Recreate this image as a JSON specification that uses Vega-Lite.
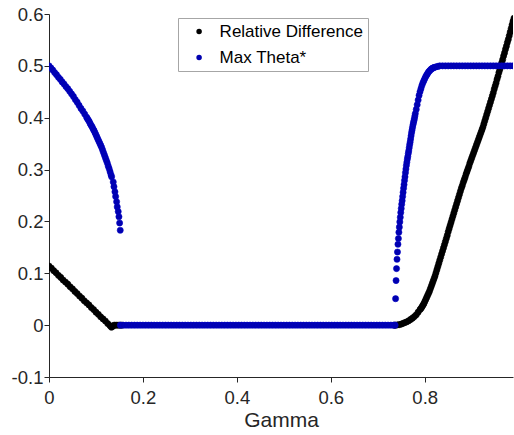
{
"$schema": "https://vega.github.io/schema/vega-lite/v6.json",
"width": 464, "height": 363,
"autosize": {"type": "none"},
"padding": {"left": 49, "top": 14, "right": 1, "bottom": 58},
"background": "white",
"config": {"view": {"stroke": null}, "font": "Liberation Sans",
  "axis": {"grid": false, "ticks": true, "domainColor": "#262626", "tickColor": "#262626", "labelColor": "#262626", "titleColor": "#262626", "labelFont": "Liberation Sans", "titleFont": "Liberation Sans", "labelFontSize": 18.5, "titleFontSize": 21, "titleFontWeight": "normal", "tickSize": 5, "tickWidth": 1, "tickOpacity": 1, "labelPadding": 1, "labelFlush": false, "labelOverlap": false},
  "legend": {"orient": "none", "legendX": 129, "legendY": 4, "padding": 5, "symbolOffset": 7.6, "labelOffset": 12, "strokeColor": "#a6a6a6", "fillColor": "white", "labelFont": "Liberation Sans", "labelFontSize": 17, "labelColor": "#000000", "rowPadding": 8, "symbolType": "circle", "symbolSize": 30, "symbolStrokeWidth": 0, "cornerRadius": 0}
},
"datasets": {
"rel": [
{"g":0,"v":0.114},{"g":0.005,"v":0.110},{"g":0.01,"v":0.105},{"g":0.015,"v":0.101},{"g":0.02,"v":0.096},{"g":0.025,"v":0.092},{"g":0.03,"v":0.087},{"g":0.035,"v":0.083},{"g":0.04,"v":0.079},{"g":0.045,"v":0.074},{"g":0.05,"v":0.070},{"g":0.055,"v":0.065},{"g":0.06,"v":0.061},{"g":0.065,"v":0.056},{"g":0.07,"v":0.052},{"g":0.075,"v":0.047},{"g":0.08,"v":0.043},{"g":0.085,"v":0.039},{"g":0.09,"v":0.034},{"g":0.095,"v":0.030},{"g":0.1,"v":0.025},{"g":0.105,"v":0.021},{"g":0.11,"v":0.016},{"g":0.115,"v":0.012},{"g":0.12,"v":0.008},{"g":0.125,"v":0.003},{"g":0.13,"v":-0.001},{"g":0.133,"v":-0.004},{"g":0.136,"v":-0.002},{"g":0.139,"v":0},{"g":0.143,"v":0},{"g":0.147,"v":0},{"g":0.151,"v":0},{"g":0.155,"v":0},
{"g":0.735,"v":0},{"g":0.738,"v":0},
{"g":0.742,"v":0.0005},{"g":0.746,"v":0.001},{"g":0.75,"v":0.002},{"g":0.754,"v":0.0035},{"g":0.758,"v":0.005},{"g":0.762,"v":0.0065},{"g":0.766,"v":0.0085},{"g":0.77,"v":0.011},{"g":0.774,"v":0.0135},{"g":0.778,"v":0.0165},{"g":0.782,"v":0.02},{"g":0.786,"v":0.025},{"g":0.79,"v":0.030},
{"g":0.792,"v":0.032},{"g":0.794,"v":0.035},{"g":0.796,"v":0.038},{"g":0.798,"v":0.041},{"g":0.8,"v":0.045},{"g":0.802,"v":0.049},{"g":0.804,"v":0.053},{"g":0.806,"v":0.057},{"g":0.808,"v":0.061},{"g":0.81,"v":0.065},{"g":0.812,"v":0.070},{"g":0.814,"v":0.075},{"g":0.816,"v":0.080},{"g":0.818,"v":0.085},{"g":0.82,"v":0.090},{"g":0.822,"v":0.095},{"g":0.824,"v":0.101},{"g":0.826,"v":0.107},{"g":0.828,"v":0.113},{"g":0.83,"v":0.119},{"g":0.832,"v":0.125},{"g":0.834,"v":0.131},{"g":0.836,"v":0.137},{"g":0.838,"v":0.143},{"g":0.84,"v":0.149},{"g":0.842,"v":0.155},{"g":0.844,"v":0.161},{"g":0.846,"v":0.167},{"g":0.848,"v":0.173},{"g":0.85,"v":0.180},{"g":0.852,"v":0.186},{"g":0.854,"v":0.192},{"g":0.856,"v":0.198},{"g":0.858,"v":0.204},{"g":0.86,"v":0.210},{"g":0.862,"v":0.216},{"g":0.864,"v":0.222},{"g":0.866,"v":0.228},{"g":0.868,"v":0.234},{"g":0.87,"v":0.240},{"g":0.872,"v":0.246},{"g":0.874,"v":0.252},{"g":0.876,"v":0.258},{"g":0.878,"v":0.264},{"g":0.88,"v":0.269},{"g":0.882,"v":0.275},{"g":0.884,"v":0.280},{"g":0.886,"v":0.285},{"g":0.888,"v":0.291},{"g":0.89,"v":0.296},{"g":0.892,"v":0.301},{"g":0.894,"v":0.306},{"g":0.896,"v":0.312},{"g":0.898,"v":0.317},{"g":0.9,"v":0.322},{"g":0.902,"v":0.327},{"g":0.904,"v":0.332},{"g":0.906,"v":0.337},{"g":0.908,"v":0.342},{"g":0.91,"v":0.347},{"g":0.912,"v":0.352},{"g":0.914,"v":0.357},{"g":0.916,"v":0.362},{"g":0.918,"v":0.367},{"g":0.92,"v":0.372},{"g":0.922,"v":0.377},{"g":0.924,"v":0.382},{"g":0.926,"v":0.388},{"g":0.928,"v":0.394},{"g":0.93,"v":0.400},{"g":0.932,"v":0.406},{"g":0.934,"v":0.412},{"g":0.936,"v":0.418},{"g":0.938,"v":0.424},{"g":0.94,"v":0.430},{"g":0.942,"v":0.436},{"g":0.944,"v":0.442},{"g":0.946,"v":0.448},{"g":0.948,"v":0.455},{"g":0.95,"v":0.461},{"g":0.952,"v":0.467},{"g":0.954,"v":0.474},{"g":0.956,"v":0.480},{"g":0.958,"v":0.487},{"g":0.96,"v":0.493},{"g":0.962,"v":0.499},{"g":0.964,"v":0.506},{"g":0.966,"v":0.512},{"g":0.968,"v":0.519},{"g":0.97,"v":0.525},{"g":0.972,"v":0.532},{"g":0.974,"v":0.538},{"g":0.976,"v":0.545},{"g":0.978,"v":0.551},{"g":0.98,"v":0.558},{"g":0.982,"v":0.565},{"g":0.984,"v":0.572},{"g":0.986,"v":0.579},{"g":0.988,"v":0.586},{"g":0.99,"v":0.592}
],
"theta": [
{"g":0,"v":0.500},{"g":0.004,"v":0.496},{"g":0.008,"v":0.492},{"g":0.012,"v":0.487},{"g":0.016,"v":0.483},{"g":0.02,"v":0.478},{"g":0.024,"v":0.474},{"g":0.028,"v":0.469},{"g":0.032,"v":0.465},{"g":0.036,"v":0.460},{"g":0.04,"v":0.456},{"g":0.044,"v":0.451},{"g":0.048,"v":0.446},{"g":0.052,"v":0.441},{"g":0.056,"v":0.435},{"g":0.06,"v":0.430},{"g":0.064,"v":0.424},{"g":0.068,"v":0.418},{"g":0.072,"v":0.413},{"g":0.076,"v":0.407},{"g":0.08,"v":0.401},{"g":0.082,"v":0.398},{"g":0.084,"v":0.395},{"g":0.086,"v":0.392},{"g":0.088,"v":0.388},{"g":0.09,"v":0.385},{"g":0.092,"v":0.382},{"g":0.094,"v":0.378},{"g":0.096,"v":0.375},{"g":0.098,"v":0.371},{"g":0.1,"v":0.367},{"g":0.102,"v":0.363},{"g":0.104,"v":0.359},{"g":0.106,"v":0.355},{"g":0.108,"v":0.351},{"g":0.11,"v":0.347},{"g":0.112,"v":0.343},{"g":0.114,"v":0.338},{"g":0.116,"v":0.333},{"g":0.118,"v":0.328},{"g":0.12,"v":0.323},{"g":0.122,"v":0.318},{"g":0.124,"v":0.313},{"g":0.126,"v":0.307},{"g":0.128,"v":0.302},{"g":0.13,"v":0.296},{"g":0.132,"v":0.290},{"g":0.1334,"v":0.286},
{"g":0.1368,"v":0.276},{"g":0.1383,"v":0.267},{"g":0.1404,"v":0.257},{"g":0.1419,"v":0.248},{"g":0.144,"v":0.238},{"g":0.1453,"v":0.228},{"g":0.1474,"v":0.219},{"g":0.1489,"v":0.209},{"g":0.1504,"v":0.197},{"g":0.1517,"v":0.183},
{"g":0.152,"v":0},{"g":0.158,"v":0},{"g":0.164,"v":0},{"g":0.17,"v":0},{"g":0.176,"v":0},{"g":0.182,"v":0},{"g":0.188,"v":0},{"g":0.194,"v":0},{"g":0.2,"v":0},{"g":0.206,"v":0},{"g":0.212,"v":0},{"g":0.218,"v":0},{"g":0.224,"v":0},{"g":0.23,"v":0},{"g":0.236,"v":0},{"g":0.242,"v":0},{"g":0.248,"v":0},{"g":0.254,"v":0},{"g":0.26,"v":0},{"g":0.266,"v":0},{"g":0.272,"v":0},{"g":0.278,"v":0},{"g":0.284,"v":0},{"g":0.29,"v":0},{"g":0.296,"v":0},{"g":0.302,"v":0},{"g":0.308,"v":0},{"g":0.314,"v":0},{"g":0.32,"v":0},{"g":0.326,"v":0},{"g":0.332,"v":0},{"g":0.338,"v":0},{"g":0.344,"v":0},{"g":0.35,"v":0},{"g":0.356,"v":0},{"g":0.362,"v":0},{"g":0.368,"v":0},{"g":0.374,"v":0},{"g":0.38,"v":0},{"g":0.386,"v":0},{"g":0.392,"v":0},{"g":0.398,"v":0},{"g":0.404,"v":0},{"g":0.41,"v":0},{"g":0.416,"v":0},{"g":0.422,"v":0},{"g":0.428,"v":0},{"g":0.434,"v":0},{"g":0.44,"v":0},{"g":0.446,"v":0},{"g":0.452,"v":0},{"g":0.458,"v":0},{"g":0.464,"v":0},{"g":0.47,"v":0},{"g":0.476,"v":0},{"g":0.482,"v":0},{"g":0.488,"v":0},{"g":0.494,"v":0},{"g":0.5,"v":0},{"g":0.506,"v":0},{"g":0.512,"v":0},{"g":0.518,"v":0},{"g":0.524,"v":0},{"g":0.53,"v":0},{"g":0.536,"v":0},{"g":0.542,"v":0},{"g":0.548,"v":0},{"g":0.554,"v":0},{"g":0.56,"v":0},{"g":0.566,"v":0},{"g":0.572,"v":0},{"g":0.578,"v":0},{"g":0.584,"v":0},{"g":0.59,"v":0},{"g":0.596,"v":0},{"g":0.602,"v":0},{"g":0.608,"v":0},{"g":0.614,"v":0},{"g":0.62,"v":0},{"g":0.626,"v":0},{"g":0.632,"v":0},{"g":0.638,"v":0},{"g":0.644,"v":0},{"g":0.65,"v":0},{"g":0.656,"v":0},{"g":0.662,"v":0},{"g":0.668,"v":0},{"g":0.674,"v":0},{"g":0.68,"v":0},{"g":0.686,"v":0},{"g":0.692,"v":0},{"g":0.698,"v":0},{"g":0.704,"v":0},{"g":0.71,"v":0},{"g":0.716,"v":0},{"g":0.722,"v":0},{"g":0.728,"v":0},{"g":0.734,"v":0},{"g":0.737,"v":0},
{"g":0.738,"v":0.051},{"g":0.739,"v":0.086},{"g":0.74,"v":0.109},{"g":0.741,"v":0.127},{"g":0.742,"v":0.141},{"g":0.743,"v":0.156},{"g":0.744,"v":0.167},{"g":0.745,"v":0.179},{"g":0.746,"v":0.189},{"g":0.747,"v":0.199},{"g":0.748,"v":0.208},{"g":0.749,"v":0.217},{"g":0.75,"v":0.225},{"g":0.751,"v":0.233},{"g":0.752,"v":0.240},{"g":0.753,"v":0.248},{"g":0.754,"v":0.256},{"g":0.755,"v":0.264},{"g":0.756,"v":0.271},{"g":0.757,"v":0.279},{"g":0.758,"v":0.286},{"g":0.759,"v":0.294},{"g":0.76,"v":0.301},{"g":0.761,"v":0.308},{"g":0.762,"v":0.314},{"g":0.763,"v":0.320},{"g":0.764,"v":0.325},{"g":0.765,"v":0.331},{"g":0.766,"v":0.336},{"g":0.767,"v":0.342},{"g":0.768,"v":0.348},{"g":0.769,"v":0.353},{"g":0.77,"v":0.359},{"g":0.771,"v":0.365},{"g":0.772,"v":0.371},{"g":0.773,"v":0.376},{"g":0.774,"v":0.381},{"g":0.775,"v":0.386},{"g":0.776,"v":0.390},{"g":0.777,"v":0.394},{"g":0.778,"v":0.398},{"g":0.779,"v":0.403},{"g":0.78,"v":0.408},
{"g":0.782,"v":0.416},{"g":0.784,"v":0.425},{"g":0.786,"v":0.434},{"g":0.788,"v":0.443},{"g":0.79,"v":0.450},{"g":0.792,"v":0.456},{"g":0.794,"v":0.462},{"g":0.796,"v":0.467},{"g":0.798,"v":0.471},{"g":0.8,"v":0.475},{"g":0.802,"v":0.479},{"g":0.804,"v":0.482},{"g":0.806,"v":0.485},{"g":0.808,"v":0.488},{"g":0.81,"v":0.490},{"g":0.812,"v":0.492},{"g":0.814,"v":0.494},{"g":0.816,"v":0.495},{"g":0.818,"v":0.496},{"g":0.82,"v":0.497},{"g":0.824,"v":0.498},{"g":0.828,"v":0.499},{"g":0.832,"v":0.500},{"g":0.838,"v":0.500},
{"g":0.844,"v":0.5},{"g":0.85,"v":0.5},{"g":0.856,"v":0.5},{"g":0.862,"v":0.5},{"g":0.868,"v":0.5},{"g":0.874,"v":0.5},{"g":0.88,"v":0.5},{"g":0.886,"v":0.5},{"g":0.892,"v":0.5},{"g":0.898,"v":0.5},{"g":0.904,"v":0.5},{"g":0.91,"v":0.5},{"g":0.916,"v":0.5},{"g":0.922,"v":0.5},{"g":0.928,"v":0.5},{"g":0.934,"v":0.5},{"g":0.94,"v":0.5},{"g":0.946,"v":0.5},{"g":0.952,"v":0.5},{"g":0.958,"v":0.5},{"g":0.964,"v":0.5},{"g":0.97,"v":0.5},{"g":0.976,"v":0.5},{"g":0.982,"v":0.5},{"g":0.988,"v":0.5}
]
},
"encoding": {
  "x": {"field": "g", "type": "quantitative", "scale": {"domain": [0, 0.988], "nice": false, "zero": false},
        "axis": {"title": "Gamma", "values": [0, 0.2, 0.4, 0.6, 0.8], "labelExpr": "datum.value == 0 ? '0' : format(datum.value, '.1f')", "labelPadding": 6, "titlePadding": 3}},
  "y": {"field": "v", "type": "quantitative", "scale": {"domain": [-0.1, 0.6], "nice": false, "zero": false},
        "axis": {"title": null, "values": [-0.1, 0, 0.1, 0.2, 0.3, 0.4, 0.5, 0.6], "labelExpr": "datum.value < 0 ? '-' + format(-datum.value, '.1f') : (datum.value == 0 ? '0' : format(datum.value, '.1f'))"}}
},
"layer": [
  {"data": {"name": "rel"},
   "mark": {"type": "point", "filled": true, "size": 38, "opacity": 1, "stroke": "#000000", "strokeWidth": 0.6, "clip": true},
   "encoding": {"fill": {"datum": "Relative Difference", "type": "nominal", "scale": {"domain": ["Relative Difference", "Max Theta*"], "range": ["#000000", "#0000b0"]}, "legend": {"title": null}}}},
  {"data": {"name": "theta"},
   "mark": {"type": "point", "filled": true, "size": 38, "opacity": 1, "stroke": "#0000c4", "strokeWidth": 0.6, "clip": true},
   "encoding": {"fill": {"datum": "Max Theta*", "type": "nominal"}}}
]
}
